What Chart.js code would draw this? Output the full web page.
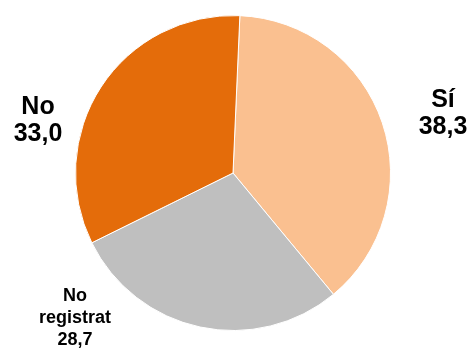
<!DOCTYPE html>
<html>
<head>
<meta charset="utf-8">
<script src="https://cdn.jsdelivr.net/npm/chart.js@4"></script>
<style>
html,body{margin:0;padding:0;background:#fff;}
#wrap{width:472px;height:352px;position:relative;}
</style>
</head>
<body>
<div id="wrap"><canvas id="c" width="472" height="352"></canvas></div>
<script>
const categories = ["Sí", "No registrat", "No"];
const values = [38.3, 28.7, 33.0];
const colors = ["#FAC090", "#BFBFBF", "#E46C0A"];
const labelLines = [["Sí", "38,3"], ["No", "registrat", "28,7"], ["No", "33,0"]];

const labelPlugin = {
  id: "sliceLabels",
  afterDraw(chart) {
    const ctx = chart.ctx;
    ctx.save();
    ctx.fillStyle = "#000";
    ctx.textAlign = "center";
    ctx.textBaseline = "middle";
    const spec = [
      {x: 443, y: 100, size: 25, gap: 27},
      {x: 75, y: 296, size: 18, gap: 22},
      {x: 38, y: 107, size: 25, gap: 27}
    ];
    labelLines.forEach((lines, i) => {
      const s = spec[i];
      ctx.font = "bold " + s.size + "px 'Liberation Sans', Arial, sans-serif";
      lines.forEach((t, j) => ctx.fillText(t, s.x, s.y + j * s.gap));
    });
    ctx.restore();
  }
};

new Chart(document.getElementById("c"), {
  type: "pie",
  data: {
    labels: categories,
    datasets: [{
      data: values,
      backgroundColor: colors,
      borderColor: "#ffffff",
      borderWidth: 1
    }]
  },
  options: {
    responsive: false,
    animation: false,
    rotation: 2.5,
    layout: {padding: {top: 15, bottom: 21, left: 75, right: 81}},
    plugins: {legend: {display: false}, tooltip: {enabled: false}}
  },
  plugins: [labelPlugin]
});
</script>
</body>
</html>
